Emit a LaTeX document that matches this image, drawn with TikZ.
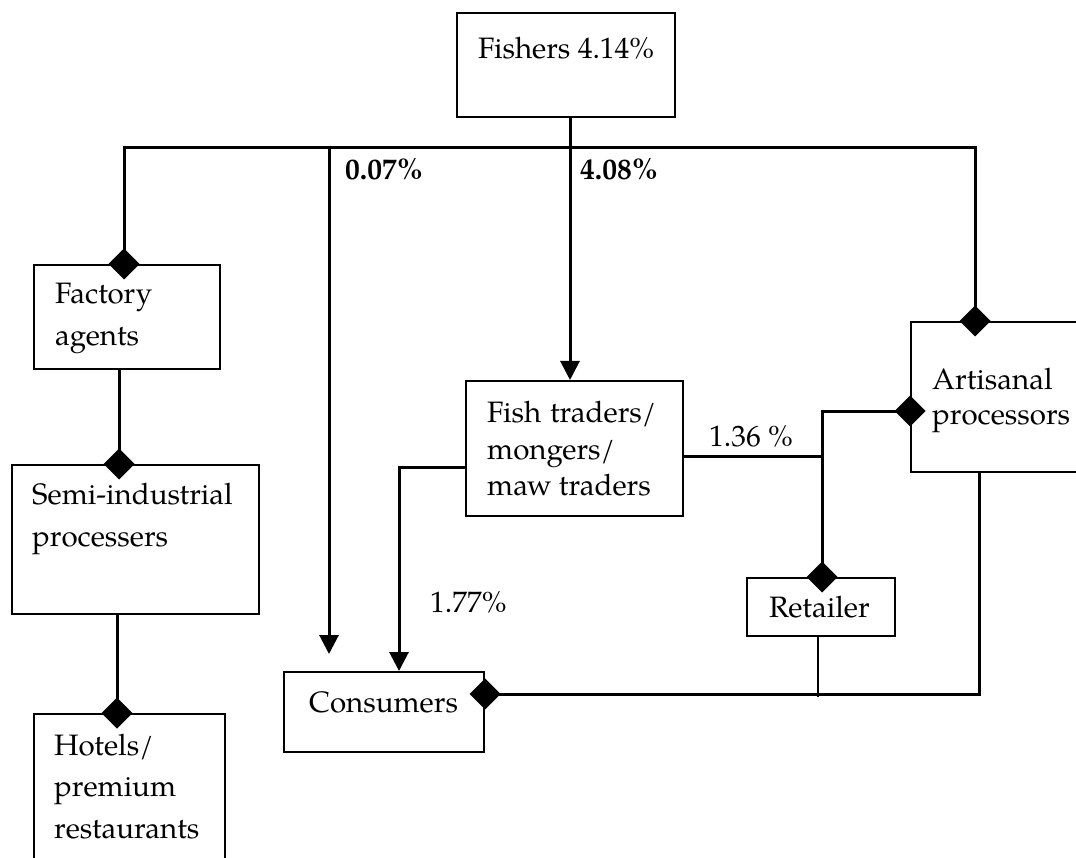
\documentclass[tikz,border=0pt]{standalone}
\usepackage{fontspec}
\setmainfont{TeX Gyre Pagella}
\usetikzlibrary{arrows.meta}
\begin{document}
\begin{tikzpicture}[x=1pt,y=-1pt,
  box/.style={draw, line width=2pt, inner sep=0pt, rectangle},
  lbl/.style={anchor=base west, inner sep=0pt, font=\fontsize{29.5}{35}\selectfont},
  blbl/.style={anchor=base west, inner sep=0pt, font=\fontsize{29.5}{35}\selectfont\bfseries},
  link/.style={line width=3pt},
  thinlink/.style={line width=1.3pt},
  arr/.style={link, -{Triangle[width=19pt,length=19pt]}},
  dia/.style={link, -{Diamond[width=31pt,length=31pt]}, shorten >=-15.5pt},
  diadia/.style={link, {Diamond[width=31pt,length=31pt]}-{Diamond[width=31pt,length=31pt]},
    shorten <=-15.5pt, shorten >=-15.5pt}]
\useasboundingbox (0,0) rectangle (1076,858);
\clip (0,0) rectangle (1076,858);

% boxes
\node[box, minimum width=218pt, minimum height=104pt] (fishers)   at (566,65) {};
\node[box, minimum width=186pt, minimum height=104pt] (agents)    at (127,317) {};
\node[box, minimum width=247pt, minimum height=149pt] (semi)      at (135.5,539.5) {};
\node[box, minimum width=191pt, minimum height=156pt] (hotels)    at (129.5,792) {};
\node[box, minimum width=217pt, minimum height=135pt] (traders)   at (574.5,448.5) {};
\node[box, minimum width=179pt, minimum height=150pt] (artisanal) at (1000.5,397) {};
\node[box, minimum width=148pt, minimum height=58pt]  (retailer)  at (821,607) {};
\node[box, minimum width=200pt, minimum height=80pt]  (consumers) at (384,712) {};

% box texts
\node[lbl] (fishers-t)  at (478,59)  {Fishers 4.14\%};
\node[lbl] (agents-t1)  at (55,304)  {Factory};
\node[lbl] (agents-t2)  at (55,346)  {agents};
\node[lbl] (semi-t1)    at (32,504)  {Semi-industrial};
\node[lbl] (semi-t2)    at (32,546)  {processers};
\node[lbl] (hotels-t1)  at (54,755)  {Hotels/};
\node[lbl] (hotels-t2)  at (54,796)  {premium};
\node[lbl] (hotels-t3)  at (54,838)  {restaurants};
\node[lbl] (traders-t1) at (487,422) {Fish\hspace{0.3em}traders/};
\node[lbl] (traders-t2) at (487,459) {mongers/};
\node[lbl] (traders-t3) at (487,495) {maw traders};
\node[lbl] (artisanal-t1) at (932,389) {Artisanal};
\node[lbl] (artisanal-t2) at (932,424) {processors};
\node[lbl] (retailer-t) at (769,617) {Retailer};
\node[lbl] (consumers-t) at (309,712) {Consumers};

% flow shares
\node[blbl] (share007) at (345,180) {0.07\%};
\node[blbl] (share408) at (580,180) {4.08\%};
\node[lbl]  (share136) at (709,446) {1.36 \%};
\node[lbl]  (share177) at (430,612) {1.77\%};

% junction points
\coordinate (busL) at (124,148);
\coordinate (busR) at (975,148);
\coordinate (j007) at (329,148);
\coordinate (e007) at (329,654);
\coordinate (j408) at (570,148);
\coordinate (xa)   at (119,0);
\coordinate (xb)   at (117,0);
\coordinate (kFL)  at (399,467);
\coordinate (jF)   at (822,456);
\coordinate (jT)   at (822,411);
\coordinate (xr)   at (818,0);
\coordinate (rEnd) at (818,697);
\coordinate (kA)   at (979,694);

% distribution bus from the fishers
\draw[diadia] (agents.north -| busL) -- (busL) -- (busR) -- (artisanal.north -| busR);
\draw[arr] (fishers.south -| j408) -- (traders.north -| j408);
\draw[arr] (j007) -- (e007);

% semi-industrial chain
\draw[dia] (agents.south -| xa) -- (semi.north -| xa);
\draw[dia] (semi.south -| xb) -- (hotels.north -| xb);

% traders to consumers
\draw[arr] (traders.west |- kFL) -- (kFL) -- (consumers.north -| kFL);

% traders to artisanal processors and retailer
\draw[link] (traders.east |- jF) -- (jF);
\draw[diadia] (artisanal.west |- jT) -- (jT) -- (retailer.north -| jT);
\draw[thinlink] (retailer.south -| xr) -- (rEnd);

% artisanal processors to consumers
\draw[dia] (artisanal.south -| kA) -- (kA) -- (consumers.east |- kA);
\end{tikzpicture}
\end{document}
